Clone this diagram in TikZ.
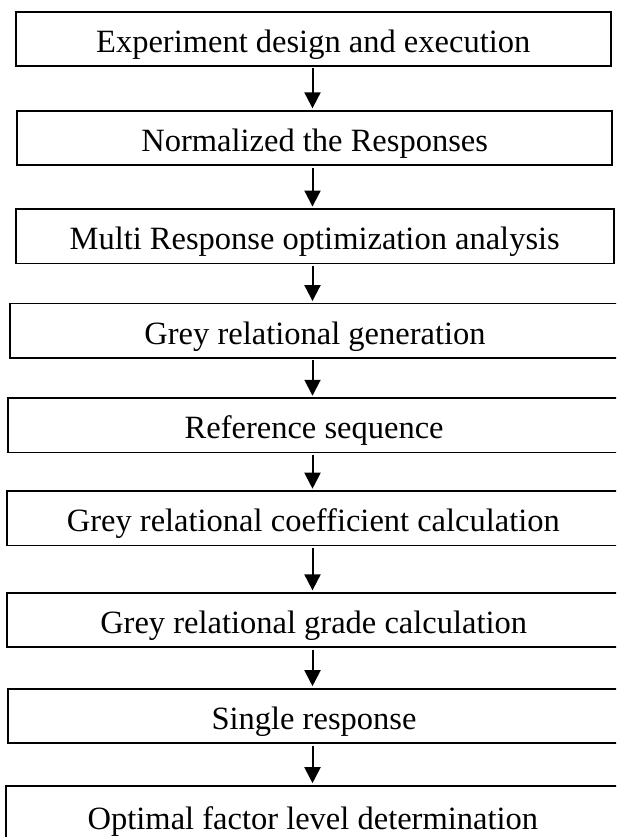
\documentclass[tikz,border=0pt]{standalone}
\usepackage{fontspec}
\setmainfont{Liberation Serif}
\usetikzlibrary{arrows.meta}
\begin{document}
\begin{tikzpicture}[x=1pt,y=-1pt,
  stepbox/.style={draw=black, line width=1.7pt, inner sep=0pt, outer sep=0pt,
    minimum height=54.3pt, text height=27pt, text depth=0pt,
    font=\fontsize{32.5}{36}\selectfont},
  arr/.style={line width=2pt, -{Triangle[width=16pt,length=16pt]},
    shorten <=2.5pt, shorten >=2.5pt}]
\useasboundingbox (0,0) rectangle (616,837);
\clip (0,0) rectangle (616,837);
\node[stepbox, minimum width=595pt] (b1) at (313.2,38.85) {Experiment design and execution};
\node[stepbox, minimum width=594.7pt] (b2) at (314.65,138) {Normalized the Responses};
\node[stepbox, minimum width=598pt] (b3) at (314.7,236.2) {Multi Response optimization analysis};
\node[stepbox, minimum width=610pt] (b4) at (315,330.7) {Grey relational generation};
\node[stepbox, minimum width=611.7pt] (b5) at (314.15,425.4) {Reference sequence};
\node[stepbox, minimum width=613.3pt] (b6) at (313.35,518.35) {Grey relational coefficient calculation};
\node[stepbox, minimum width=612.7pt] (b7) at (313.65,620) {Grey relational grade calculation};
\node[stepbox, minimum width=612pt] (b8) at (314,715.85) {Single response};
\node[stepbox, minimum width=614.3pt, minimum height=60pt] (b9) at (312.85,815.7) {Optimal factor level determination};
\coordinate (ax) at (312.5,0);
\draw[arr] (b1.south -| ax) -- (b2.north -| ax);
\draw[arr] (b2.south -| ax) -- (b3.north -| ax);
\draw[arr] (b3.south -| ax) -- (b4.north -| ax);
\draw[arr] (b4.south -| ax) -- (b5.north -| ax);
\draw[arr] (b5.south -| ax) -- (b6.north -| ax);
\draw[arr] (b6.south -| ax) -- (b7.north -| ax);
\draw[arr] (b7.south -| ax) -- (b8.north -| ax);
\draw[arr] (b8.south -| ax) -- (b9.north -| ax);
\end{tikzpicture}
\end{document}
